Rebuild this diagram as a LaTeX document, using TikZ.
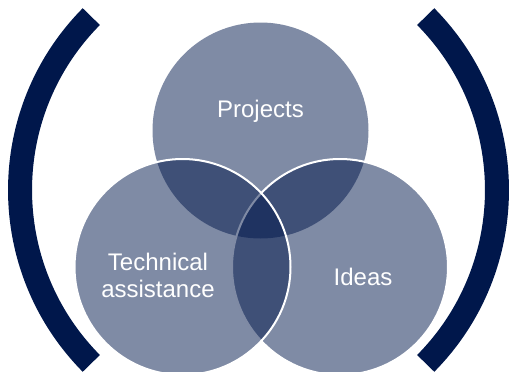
\documentclass[tikz,border=0pt]{standalone}
\usepackage{fontspec}
\setmainfont{Liberation Sans}
\definecolor{navy}{RGB}{0,23,75}

\begin{document}
\begin{tikzpicture}[
		x=1pt, y=-1pt,
		VennCircle/.style={circle, minimum size=216pt, inner sep=0pt, fill=navy, fill opacity=0.5},
		VennEdge/.style={draw=white, line width=2pt},
		VennLabel/.style={text=white, font=\fontsize{24}{27}\selectfont, align=center, inner sep=0pt},
		Bracket/.style={draw=navy, line width=24pt}
		]

		\clip (0,0) rectangle (514,372);

		% brackets
		\draw[Bracket] (266.5,190) ++(135.3:246.5) arc[start angle=135.3, end angle=224.7, radius=246.5];
		\draw[Bracket] (250.5,190) ++(-44.7:246.5) arc[start angle=-44.7, end angle=44.7, radius=246.5];

		% the three circles
		\node[VennCircle] (projects) at (260.5,130.5) {};
		\node[VennCircle, VennEdge] (ideas) at (340,267) {};
		\node[VennCircle, VennEdge] (technical) at (182.5,267) {};

		\node[VennLabel, anchor=base] (projectsText) at (260.5,117) {Projects};
		\node[VennLabel, anchor=base] (technicalText) at (158,297) {Technical\\assistance};
		\node[VennLabel, anchor=base] (ideasText) at (363,285) {Ideas};

\end{tikzpicture}
\end{document}
